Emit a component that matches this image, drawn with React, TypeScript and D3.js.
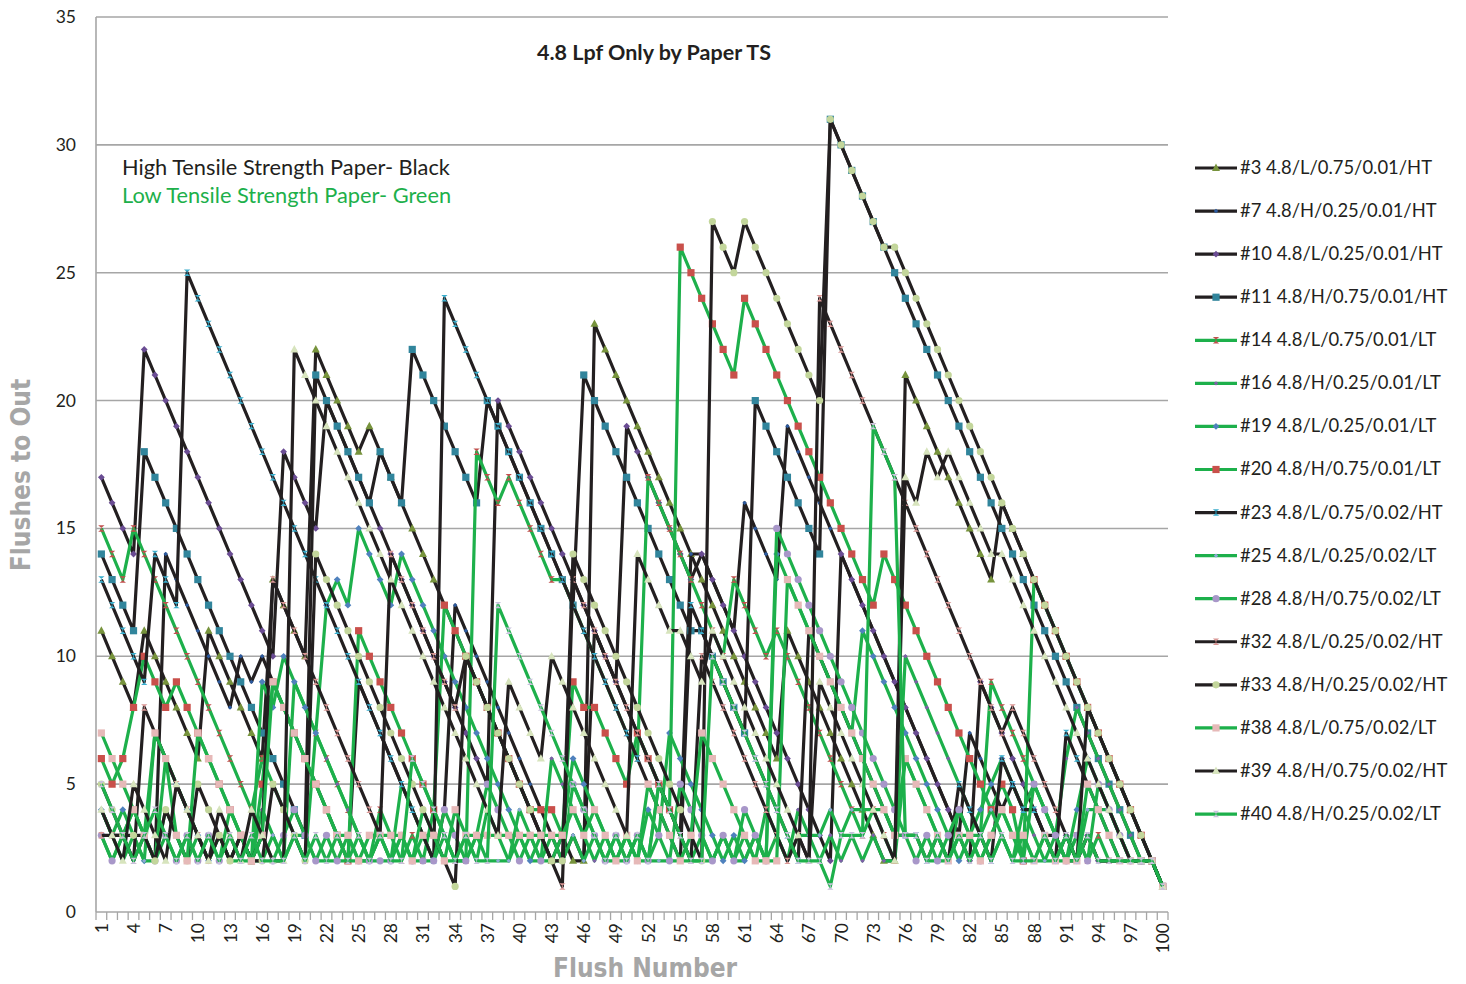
import React from "react";
import * as d3 from "d3";

const flushNumbers: number[] = Array.from({ length: 100 }, (_, i) => i + 1);
const yTicks = [0, 5, 10, 15, 20, 25, 30, 35];
const xTickLabels = flushNumbers.filter((n) => (n - 1) % 3 === 0);

const s3 = [
  11, 10, 9, 8, 11, 10, 9, 8, 7, 6,
  11, 10, 9, 8, 7, 6, 13, 12, 11, 10,
  22, 21, 20, 19, 18, 19, 18, 17, 16, 15,
  14, 13, 12, 11, 10, 9, 8, 7, 6, 5,
  4, 3, 2, 3, 2, 2, 23, 22, 21, 20,
  19, 18, 17, 16, 15, 14, 13, 12, 11, 10,
  9, 8, 7, 6, 11, 10, 9, 8, 7, 6,
  5, 4, 3, 2, 2, 21, 20, 19, 18, 17,
  16, 15, 14, 13, 16, 15, 14, 13, 12, 11,
  10, 9, 8, 7, 6, 5, 4, 3, 2, 1,
];
const s7 = [
  4, 3, 3, 2, 3, 2, 14, 13, 12, 11,
  10, 9, 8, 10, 9, 10, 9, 8, 7, 6,
  5, 4, 3, 2, 9, 8, 7, 6, 5, 4,
  3, 2, 4, 12, 11, 10, 9, 8, 7, 6,
  5, 4, 3, 2, 3, 2, 11, 10, 9, 8,
  7, 6, 5, 4, 3, 14, 14, 13, 12, 11,
  16, 15, 14, 13, 19, 18, 17, 16, 15, 14,
  13, 12, 11, 10, 9, 8, 7, 6, 5, 4,
  3, 7, 6, 5, 4, 5, 4, 4, 3, 3,
  2, 2, 3, 2, 2, 2, 2, 2, 2, 1,
];
const s10 = [
  17, 16, 15, 14, 22, 21, 20, 19, 18, 17,
  16, 15, 14, 13, 12, 11, 10, 18, 17, 16,
  15, 20, 19, 18, 17, 16, 15, 14, 13, 12,
  11, 10, 9, 8, 7, 6, 5, 20, 19, 18,
  17, 16, 15, 14, 13, 12, 11, 10, 9, 19,
  18, 17, 16, 15, 14, 13, 14, 13, 12, 11,
  10, 9, 8, 7, 6, 5, 4, 3, 2, 14,
  13, 12, 11, 10, 9, 8, 7, 6, 5, 4,
  3, 2, 9, 8, 7, 6, 5, 4, 3, 2,
  3, 2, 3, 2, 2, 2, 2, 2, 2, 1,
];
const s11 = [
  14, 13, 12, 11, 18, 17, 16, 15, 14, 13,
  12, 11, 10, 9, 8, 7, 6, 5, 4, 3,
  21, 20, 19, 18, 17, 16, 18, 17, 16, 22,
  21, 20, 19, 18, 17, 16, 20, 19, 18, 17,
  16, 15, 14, 13, 12, 21, 20, 19, 18, 17,
  16, 15, 14, 13, 12, 11, 11, 10, 9, 8,
  7, 20, 19, 18, 17, 16, 15, 14, 31, 30,
  29, 28, 27, 26, 25, 24, 23, 22, 21, 20,
  19, 18, 17, 16, 15, 14, 13, 12, 11, 10,
  9, 8, 7, 6, 5, 4, 3, 2, 2, 1,
];
const s14 = [
  15, 14, 13, 15, 14, 13, 12, 11, 10, 9,
  8, 7, 6, 5, 4, 6, 5, 4, 3, 2,
  7, 6, 5, 4, 3, 2, 4, 3, 2, 3,
  2, 4, 3, 2, 2, 18, 17, 16, 17, 16,
  15, 14, 13, 13, 12, 11, 10, 9, 8, 7,
  6, 17, 16, 15, 14, 13, 12, 11, 10, 13,
  12, 11, 10, 11, 10, 9, 8, 7, 6, 5,
  4, 3, 4, 3, 2, 6, 5, 4, 3, 2,
  4, 3, 3, 9, 8, 7, 6, 5, 4, 3,
  2, 3, 2, 3, 2, 2, 2, 2, 2, 1,
];
const s16 = [
  3, 2, 3, 4, 3, 2, 6, 5, 4, 3,
  2, 3, 2, 3, 2, 4, 3, 2, 9, 8,
  7, 6, 5, 4, 3, 2, 3, 2, 5, 4,
  3, 2, 3, 2, 3, 2, 4, 3, 2, 3,
  2, 2, 6, 5, 4, 3, 2, 3, 2, 3,
  2, 2, 5, 4, 3, 2, 3, 2, 3, 2,
  2, 3, 2, 3, 2, 4, 3, 2, 3, 2,
  3, 2, 3, 2, 2, 10, 9, 8, 7, 6,
  5, 4, 3, 2, 3, 2, 4, 3, 2, 3,
  6, 8, 7, 6, 5, 4, 3, 2, 2, 1,
];
const s19 = [
  4, 3, 4, 3, 2, 7, 6, 5, 4, 3,
  2, 3, 2, 3, 2, 9, 8, 10, 9, 8,
  7, 12, 13, 12, 15, 14, 13, 12, 14, 13,
  12, 11, 10, 9, 8, 7, 6, 5, 4, 3,
  2, 3, 2, 3, 6, 5, 4, 3, 2, 3,
  2, 4, 3, 7, 6, 5, 4, 3, 2, 3,
  2, 3, 2, 14, 13, 12, 11, 10, 9, 8,
  7, 11, 10, 9, 8, 7, 6, 5, 4, 3,
  2, 3, 4, 5, 6, 5, 4, 5, 4, 3,
  2, 4, 6, 5, 4, 3, 2, 2, 2, 1,
];
const s20 = [
  6, 5, 6, 8, 10, 9, 8, 9, 8, 7,
  6, 5, 4, 3, 2, 5, 9, 8, 7, 6,
  5, 4, 3, 2, 11, 10, 9, 8, 7, 6,
  5, 4, 12, 11, 10, 9, 8, 7, 6, 5,
  4, 4, 4, 3, 9, 8, 8, 7, 6, 5,
  7, 6, 5, 4, 26, 25, 24, 23, 22, 21,
  24, 23, 22, 21, 20, 19, 18, 17, 16, 15,
  14, 13, 12, 14, 13, 12, 11, 10, 9, 8,
  7, 6, 5, 4, 5, 4, 2, 13, 12, 11,
  10, 9, 8, 7, 6, 5, 4, 3, 2, 1,
];
const s23 = [
  13, 12, 11, 10, 9, 14, 13, 12, 25, 24,
  23, 22, 21, 20, 19, 18, 17, 16, 15, 14,
  13, 12, 11, 10, 9, 8, 7, 6, 5, 4,
  3, 2, 24, 23, 22, 21, 20, 19, 18, 17,
  16, 15, 14, 13, 12, 11, 10, 9, 8, 7,
  6, 5, 4, 3, 2, 12, 11, 10, 9, 8,
  7, 6, 5, 4, 3, 2, 11, 10, 9, 8,
  7, 6, 5, 4, 3, 3, 3, 2, 3, 2,
  5, 4, 3, 2, 6, 5, 4, 4, 3, 2,
  7, 6, 5, 4, 3, 2, 2, 2, 2, 1,
];
const s25 = [
  4, 3, 2, 3, 2, 2, 4, 3, 2, 3,
  2, 3, 2, 2, 2, 2, 3, 2, 3, 3,
  2, 2, 2, 2, 2, 2, 3, 2, 3, 2,
  4, 3, 2, 2, 2, 3, 2, 2, 2, 4,
  3, 2, 2, 2, 3, 2, 3, 2, 2, 2,
  3, 2, 2, 2, 2, 2, 2, 2, 3, 2,
  3, 2, 4, 3, 2, 3, 3, 3, 4, 3,
  4, 4, 4, 4, 3, 3, 3, 2, 2, 2,
  3, 2, 3, 4, 3, 2, 3, 2, 2, 2,
  3, 2, 4, 4, 4, 3, 2, 2, 2, 1,
];
const s28 = [
  3, 2, 3, 4, 3, 2, 3, 2, 3, 2,
  3, 2, 4, 3, 2, 3, 2, 3, 4, 3,
  2, 3, 2, 3, 2, 2, 2, 2, 3, 2,
  2, 2, 4, 3, 2, 3, 5, 4, 3, 2,
  3, 2, 3, 2, 5, 4, 3, 2, 3, 2,
  3, 2, 3, 2, 5, 4, 3, 2, 3, 2,
  4, 3, 2, 15, 14, 13, 12, 11, 10, 9,
  8, 7, 6, 5, 4, 3, 2, 3, 2, 3,
  4, 3, 2, 3, 4, 3, 2, 5, 4, 3,
  2, 3, 2, 5, 4, 3, 2, 2, 2, 1,
];
const s32 = [
  3, 3, 3, 2, 8, 7, 6, 5, 4, 3,
  2, 3, 2, 3, 2, 3, 13, 12, 11, 10,
  9, 8, 7, 6, 5, 4, 3, 14, 13, 12,
  11, 10, 9, 8, 10, 9, 8, 7, 6, 5,
  4, 3, 2, 1, 13, 12, 11, 10, 9, 8,
  7, 6, 5, 4, 3, 2, 10, 9, 8, 7,
  6, 5, 4, 3, 2, 3, 2, 24, 23, 22,
  21, 20, 19, 18, 17, 16, 15, 14, 13, 12,
  11, 10, 9, 8, 7, 8, 7, 6, 5, 4,
  3, 2, 8, 7, 6, 5, 4, 3, 2, 1,
];
const s33 = [
  5, 4, 3, 3, 3, 2, 4, 3, 2, 5,
  4, 3, 2, 3, 2, 2, 5, 4, 3, 2,
  14, 13, 12, 11, 10, 9, 8, 7, 6, 5,
  4, 3, 2, 1, 10, 9, 8, 7, 6, 5,
  4, 3, 2, 2, 14, 13, 12, 11, 10, 9,
  8, 7, 6, 5, 4, 3, 2, 27, 26, 25,
  27, 26, 25, 24, 23, 22, 21, 20, 31, 30,
  29, 28, 27, 26, 26, 25, 24, 23, 22, 21,
  20, 19, 18, 17, 16, 15, 14, 13, 12, 11,
  10, 9, 8, 7, 6, 5, 4, 3, 2, 1,
];
const s38 = [
  7, 6, 5, 4, 3, 7, 6, 3, 2, 7,
  6, 5, 4, 3, 2, 3, 9, 8, 7, 6,
  5, 4, 3, 3, 2, 3, 3, 3, 3, 2,
  3, 3, 2, 4, 3, 3, 3, 3, 3, 3,
  3, 3, 3, 3, 4, 3, 4, 3, 2, 3,
  2, 5, 4, 3, 2, 3, 7, 6, 5, 4,
  3, 2, 2, 2, 13, 12, 11, 10, 9, 8,
  7, 6, 5, 4, 3, 6, 5, 4, 3, 2,
  3, 3, 2, 3, 4, 3, 3, 2, 3, 2,
  2, 2, 5, 4, 3, 2, 2, 2, 2, 1,
];
const s39 = [
  4, 3, 2, 5, 4, 3, 2, 5, 4, 3,
  2, 4, 3, 2, 4, 3, 2, 2, 22, 21,
  20, 19, 18, 17, 16, 15, 14, 13, 12, 11,
  10, 9, 8, 7, 6, 5, 4, 3, 9, 8,
  7, 6, 10, 9, 8, 7, 6, 5, 4, 3,
  14, 13, 12, 11, 11, 10, 9, 11, 10, 9,
  8, 7, 6, 5, 4, 3, 2, 9, 8, 7,
  6, 5, 4, 3, 2, 17, 16, 18, 17, 18,
  17, 16, 15, 14, 14, 13, 12, 11, 10, 9,
  8, 7, 6, 5, 4, 3, 2, 2, 2, 1,
];
const s40 = [
  5, 4, 3, 2, 3, 4, 3, 2, 3, 2,
  3, 2, 3, 2, 3, 2, 2, 2, 3, 2,
  3, 2, 3, 2, 3, 2, 3, 2, 2, 6,
  5, 4, 3, 2, 3, 2, 2, 12, 11, 10,
  9, 8, 7, 6, 5, 4, 3, 2, 3, 2,
  3, 2, 5, 4, 3, 2, 2, 10, 9, 8,
  7, 6, 5, 4, 3, 2, 2, 2, 1, 3,
  3, 3, 19, 18, 17, 3, 3, 2, 3, 2,
  3, 2, 3, 2, 3, 2, 2, 2, 3, 2,
  3, 2, 3, 2, 2, 2, 2, 2, 2, 1,
];

const legendLabels = [
  "#3 4.8/L/0.75/0.01/HT",
  "#7 4.8/H/0.25/0.01/HT",
  "#10 4.8/L/0.25/0.01/HT",
  "#11 4.8/H/0.75/0.01/HT",
  "#14 4.8/L/0.75/0.01/LT",
  "#16 4.8/H/0.25/0.01/LT",
  "#19 4.8/L/0.25/0.01/LT",
  "#20 4.8/H/0.75/0.01/LT",
  "#23 4.8/L/0.75/0.02/HT",
  "#25 4.8/L/0.25/0.02/LT",
  "#28 4.8/H/0.75/0.02/LT",
  "#32 4.8/L/0.25/0.02/HT",
  "#33 4.8/H/0.25/0.02/HT",
  "#38 4.8/L/0.75/0.02/LT",
  "#39 4.8/H/0.75/0.02/HT",
  "#40 4.8/H/0.25/0.02/LT",
];
const seriesValues = [s3, s7, s10, s11, s14, s16, s19, s20, s23, s25, s28, s32, s33, s38, s39, s40];
const markerShapes = [
  "triangle", "dot", "diamond", "square", "hourglass", "dot", "diamond", "square",
  "hourglass", "dot", "circle", "hourglass", "circle", "square", "triangle", "hourglass",
];
const markerColors = [
  "#77933C", "#2C5A9E", "#6A4C93", "#31859C", "#C0504D", "#7F5FA8", "#4F81BD", "#C9504B",
  "#3AACCB", "#8EA9D6", "#A897C9", "#D99694", "#C3D69B", "#E6B9B8", "#D7E4BD", "#C8C2DC",
];

const BLACK = "#231F20";
const GREEN = "#1DB04B";

function lineColor(label: string) {
  return label.endsWith("HT") ? BLACK : GREEN;
}

function markerPath(shape: string, r: number): string {
  switch (shape) {
    case "triangle":
      return `M0,${-r * 1.1}L${r},${r * 0.75}L${-r},${r * 0.75}Z`;
    case "diamond":
      return `M0,${-r}L${r},0L0,${r}L${-r},0Z`;
    case "square":
      return `M${-r},${-r}H${r}V${r}H${-r}Z`;
    case "hourglass":
      return `M${-r},${-r}L${r},${-r}L${-r * 0.25},0L${r},${r}L${-r},${r}L${r * 0.25},0Z`;
    case "circle":
      return d3.symbol(d3.symbolCircle, Math.PI * r * r)() as string;
    default:
      return `M0,${-r}L${r},0L0,${r}L${-r},0Z`;
  }
}
function markerRadius(shape: string) {
  if (shape === "square") return 3.6;
  if (shape === "triangle") return 4;
  if (shape === "diamond") return 3.4;
  if (shape === "circle") return 3.6;
  if (shape === "hourglass") return 3.2;
  return 2.2;
}

const W = 1466;
const H = 984;
const LEFT = 96;
const RIGHT = 1168;
const TOP = 17;
const BOTTOM = 912;

export default function App() {
  const x = d3.scalePoint<number>().domain(flushNumbers).range([LEFT, RIGHT]).padding(0.5);
  const y = d3.scaleLinear().domain([0, 35]).range([BOTTOM, TOP]);
  const line = d3
    .line<number>()
    .x((_, i) => x(flushNumbers[i]) as number)
    .y((d) => y(d));
  const step = x.step();
  const boundaries = d3.range(0, 101).map((i) => LEFT + i * step);
  const font = "Lato, 'Open Sans', sans-serif";
  const condensed = "'Liberation Sans Narrow', 'DejaVu Sans Condensed', 'Roboto', sans-serif";

  return (
    <svg
      width={W}
      height={H}
      viewBox={`0 0 ${W} ${H}`}
      style={{ position: "absolute", left: 0, top: 0, background: "#fff" }}
    >
      <rect x={0} y={0} width={W} height={H} fill="#fff" />
      {yTicks.map((t) => (
        <line key={"g" + t} x1={LEFT} x2={RIGHT} y1={y(t)} y2={y(t)} stroke="#A6A6A6" strokeWidth={1.6} />
      ))}
      <line x1={LEFT} x2={LEFT} y1={TOP} y2={BOTTOM} stroke="#A6A6A6" strokeWidth={1.6} />
      {boundaries.map((bx, i) => (
        <line key={"xt" + i} x1={bx} x2={bx} y1={BOTTOM} y2={BOTTOM + 8} stroke="#A6A6A6" strokeWidth={1.3} />
      ))}
      {yTicks.map((t) => (
        <text key={"yl" + t} x={76} y={y(t) + 6} textAnchor="end" fontFamily={font} fontSize={17.5} fill="#231F20">
          {t}
        </text>
      ))}
      {xTickLabels.map((n) => (
        <text
          key={"xl" + n}
          transform={`translate(${x(n)},${BOTTOM + 11}) rotate(-90)`}
          textAnchor="end"
          dominantBaseline="central"
          fontFamily={font}
          fontSize={17.5}
          fill="#231F20"
        >
          {n}
        </text>
      ))}
      {seriesValues.map((vals, si) => (
        <g key={"s" + si}>
          <path
            d={line(vals) as string}
            fill="none"
            stroke={lineColor(legendLabels[si])}
            strokeWidth={3.2}
            strokeLinejoin="round"
          />
          {vals.map((v, i) => (
            <path
              key={i}
              transform={`translate(${x(flushNumbers[i])},${y(v)})`}
              d={markerPath(markerShapes[si], markerRadius(markerShapes[si]))}
              fill={markerColors[si]}
            />
          ))}
        </g>
      ))}
      <text x={654} y={60} textAnchor="middle" fontFamily={font} fontWeight={700} fontSize={21.5} fill="#231F20">
        4.8 Lpf Only by Paper TS
      </text>
      <text x={122} y={175} fontFamily={font} fontSize={21.8} fill="#231F20">
        High Tensile Strength Paper- Black
      </text>
      <text x={122} y={203} fontFamily={font} fontSize={21.8} fill={GREEN}>
        Low Tensile Strength Paper- Green
      </text>
      <text
        transform={`translate(30,475) rotate(-90)`}
        textAnchor="middle"
        fontFamily={condensed}
        fontWeight={700}
        fontSize={26}
        fill="#A6A6A6"
      >
        Flushes to Out
      </text>
      <text x={645} y={977} textAnchor="middle" fontFamily={condensed} fontWeight={700} fontSize={26} fill="#A6A6A6">
        Flush Number
      </text>
      {legendLabels.map((lab, i) => {
        const ly = 168 + i * 43.07;
        return (
          <g key={"lg" + i}>
            <line x1={1195} x2={1237} y1={ly} y2={ly} stroke={lineColor(lab)} strokeWidth={3.2} />
            <path
              transform={`translate(1216,${ly})`}
              d={markerPath(markerShapes[i], markerRadius(markerShapes[i]))}
              fill={markerColors[i]}
            />
            <text x={1240} y={ly + 6} fontFamily={font} fontSize={18.4} fill="#231F20">
              {lab}
            </text>
          </g>
        );
      })}
    </svg>
  );
}
